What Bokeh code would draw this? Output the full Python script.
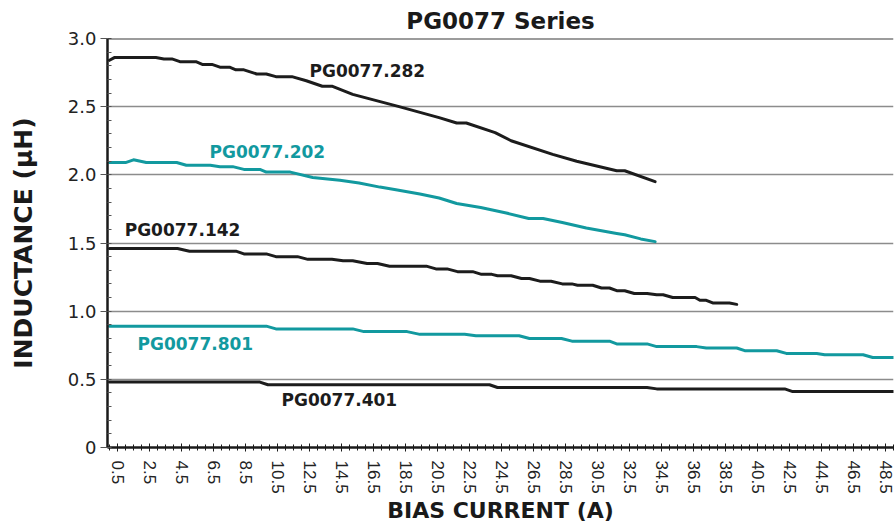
from bokeh.plotting import figure
from bokeh.models import FixedTicker, Span, NumeralTickFormatter, Range1d
from bokeh.core.properties import value
from bokeh.embed import file_html
from bokeh.resources import INLINE

# ---------------- data ----------------
x282 = [0, 0.3, 2.9, 3.4, 3.9, 4.4, 5.4, 5.8, 6.4, 6.9, 7.5, 7.9, 8.4, 9.2, 9.8, 10.4,
        11.4, 12.3, 13.3, 13.9, 15.2, 18.1, 20.6, 21.7, 22.3, 24.1, 25.1, 27.7, 29.2,
        31.7, 32.2, 34.1]
y282 = [2.84, 2.86, 2.86, 2.85, 2.85, 2.83, 2.83, 2.81, 2.81, 2.79, 2.79, 2.77, 2.77,
        2.74, 2.74, 2.72, 2.72, 2.69, 2.65, 2.65, 2.59, 2.50, 2.42, 2.38, 2.38, 2.31,
        2.25, 2.15, 2.10, 2.03, 2.03, 1.95]

x202 = [0, 1.0, 1.5, 2.3, 4.2, 4.8, 6.3, 6.9, 7.7, 8.4, 9.4, 9.8, 11.3, 12.7, 14.4, 15.6,
        16.9, 17.9, 19.4, 20.6, 21.7, 23.2, 24.8, 26.2, 27.1, 28.3, 29.8, 31.7, 32.2,
        33.2, 34.1]
y202 = [2.09, 2.09, 2.11, 2.09, 2.09, 2.07, 2.07, 2.06, 2.06, 2.04, 2.04, 2.02, 2.02,
        1.98, 1.96, 1.94, 1.91, 1.89, 1.86, 1.83, 1.79, 1.76, 1.72, 1.68, 1.68, 1.65,
        1.61, 1.57, 1.56, 1.53, 1.51]

x142 = [0, 4.25, 5.0, 7.9, 8.4, 9.8, 10.4, 11.75, 12.4, 13.9, 14.6, 15.2, 16.1, 16.75,
        17.5, 19.8, 20.4, 21.1, 21.75, 22.7, 23.25, 23.9, 24.25, 25.1, 25.75, 26.25,
        26.9, 27.6, 28.3, 28.9, 29.25, 30.2, 30.75, 31.25, 31.7, 32.2, 32.8, 33.6, 34.2,
        34.6, 35.2, 36.6, 36.9, 37.3, 37.7, 38.75, 39.2]
y142 = [1.46, 1.46, 1.44, 1.44, 1.42, 1.42, 1.40, 1.40, 1.38, 1.38, 1.37, 1.37, 1.35,
        1.35, 1.33, 1.33, 1.31, 1.31, 1.29, 1.29, 1.27, 1.27, 1.26, 1.26, 1.24, 1.24,
        1.22, 1.22, 1.20, 1.20, 1.19, 1.19, 1.17, 1.17, 1.15, 1.15, 1.13, 1.13, 1.12,
        1.12, 1.10, 1.10, 1.08, 1.08, 1.06, 1.06, 1.05]

x801 = [0, 9.8, 10.4, 15.2, 15.9, 18.6, 19.4, 22.2, 22.9, 25.6, 26.25, 28.25, 28.9,
        31.25, 31.7, 33.6, 34.2, 36.7, 37.3, 39.2, 39.7, 41.7, 42.3, 44.2, 44.7, 47.1,
        47.7, 49.0]
y801 = [0.89, 0.89, 0.87, 0.87, 0.85, 0.85, 0.83, 0.83, 0.82, 0.82, 0.80, 0.80, 0.78,
        0.78, 0.76, 0.76, 0.74, 0.74, 0.73, 0.73, 0.71, 0.71, 0.69, 0.69, 0.68, 0.68,
        0.66, 0.66]

x401 = [0, 9.4, 9.9, 23.75, 24.25, 33.6, 34.2, 42.2, 42.7, 49.0]
y401 = [0.48, 0.48, 0.46, 0.46, 0.44, 0.44, 0.43, 0.43, 0.41, 0.41]

series_names = ["PG0077.282", "PG0077.202", "PG0077.142", "PG0077.801", "PG0077.401"]
label_x = [12.5, 6.25, 0.95, 1.75, 10.75]
label_y = [2.76, 2.17, 1.595, 0.76, 0.35]

x_ticks = [0.5, 2.5, 4.5, 6.5, 8.5, 10.5, 12.5, 14.5, 16.5, 18.5, 20.5, 22.5, 24.5,
           26.5, 28.5, 30.5, 32.5, 34.5, 36.5, 38.5, 40.5, 42.5, 44.5, 46.5, 48.5]
y_ticks = [0, 0.5, 1.0, 1.5, 2.0, 2.5, 3.0]

BLACK = "#1c1c1c"
TEAL = "#12999f"
colors = [BLACK, TEAL, BLACK, TEAL, BLACK]

# ---------------- figure ----------------
p = figure(width=894, height=526, output_backend="svg", toolbar_location=None,
           x_range=Range1d(-0.125, 49.0), y_range=Range1d(0, 3.0),
           min_border_left=107, min_border_right=1, min_border_bottom=79,
           min_border_top=0)
p.outline_line_color = None
p.background_fill_color = "white"

p.title.text = "PG0077 Series"
p.title.align = "center"
p.title.text_font = "DejaVu Sans"
p.title.text_font_style = "bold"
p.title.text_font_size = "23px"
p.title.text_color = "#1a1a1a"
p.title.offset = 0
p.title.standoff = 10

# grid
p.xgrid.visible = False
p.ygrid.ticker = FixedTicker(ticks=[0.5, 1.0, 1.5, 2.0, 2.5])
p.ygrid.grid_line_color = "#8c8c8c"
p.ygrid.grid_line_width = 1.5
p.add_layout(Span(location=3.0, dimension="width", line_color="#3a3a3a", line_width=2))

# x axis
minor_x = [i * 0.5 for i in range(0, 99)]
p.xaxis.ticker = FixedTicker(ticks=x_ticks, minor_ticks=minor_x)
p.xaxis.major_label_orientation = "vertical"
p.xaxis.major_label_text_font = "Liberation Sans"
p.xaxis.major_label_text_font_size = "17px"
p.xaxis.major_label_text_color = "#222222"
p.xaxis.major_label_standoff = 9
p.xaxis.major_tick_in = 4
p.xaxis.major_tick_out = 4
p.xaxis.minor_tick_in = 3
p.xaxis.minor_tick_out = 3
p.xaxis.axis_line_width = 2.5
p.xaxis.axis_line_color = "#1a1a1a"
p.xaxis.major_tick_line_color = "#1a1a1a"
p.xaxis.minor_tick_line_color = "#1a1a1a"
p.xaxis.axis_label = "BIAS CURRENT (A)"
p.xaxis.axis_label_text_font = "DejaVu Sans"
p.xaxis.axis_label_text_font_style = "bold"
p.xaxis.axis_label_text_font_size = "22px"
p.xaxis.axis_label_text_color = "#1a1a1a"
p.xaxis.axis_label_standoff = 1

# y axis
p.yaxis.ticker = FixedTicker(ticks=y_ticks,
                             minor_ticks=[round(i * 0.1, 1) for i in range(31)])
p.yaxis.formatter = NumeralTickFormatter(format="0.0")
p.yaxis.major_label_overrides = {0: "0"}
p.yaxis.major_label_text_font = "DejaVu Sans"
p.yaxis.major_label_text_font_size = "18px"
p.yaxis.major_label_text_color = "#222222"
p.yaxis.major_label_standoff = 4
p.yaxis.major_tick_in = 0
p.yaxis.major_tick_out = 7
p.yaxis.minor_tick_in = 4
p.yaxis.minor_tick_out = 0
p.yaxis.axis_line_width = 2.5
p.yaxis.axis_line_color = "#1a1a1a"
p.yaxis.major_tick_line_color = "#555555"
p.yaxis.minor_tick_line_color = "#555555"
p.yaxis.axis_label = "INDUCTANCE (µH)"
p.yaxis.axis_label_text_font = "DejaVu Sans"
p.yaxis.axis_label_text_font_style = "bold"
p.yaxis.axis_label_text_font_size = "25px"
p.yaxis.axis_label_text_color = "#1a1a1a"
p.yaxis.axis_label_standoff = 27

# series
for xs, ys, c in [(x282, y282, BLACK), (x202, y202, TEAL), (x142, y142, BLACK),
                  (x801, y801, TEAL), (x401, y401, BLACK)]:
    p.line(xs, ys, line_color=c, line_width=3, line_join="round", line_cap="round")

p.text(x=label_x, y=label_y, text=series_names, text_color=colors,
       text_font=value("DejaVu Sans"), text_font_style="bold",
       text_font_size="17px", text_align="left", text_baseline="middle")

open("out.html", "w").write(file_html(p, INLINE))
